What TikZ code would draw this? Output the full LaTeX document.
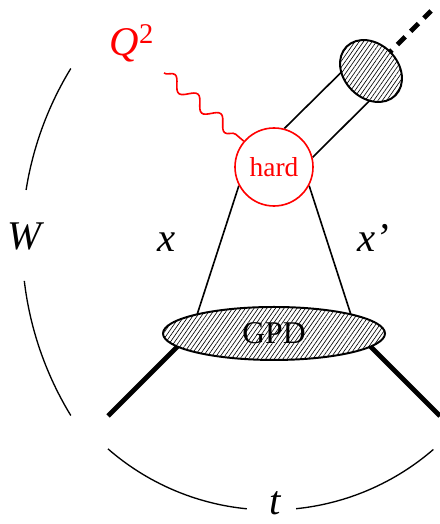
\documentclass[tikz,border=0pt]{standalone}
\usepackage{fontspec}
\setmainfont{Liberation Serif}
\usepackage{tikz}
\usetikzlibrary{calc,backgrounds,shapes.geometric,decorations.pathmorphing,patterns.meta}
\definecolor{ink}{HTML}{000000}
\definecolor{hardred}{HTML}{FF0000}
\tikzset{
  every node/.style={text=ink},
  blob/.style={ellipse,draw=ink,line width=1.4pt,inner sep=0pt,preaction={fill=white},pattern={Lines[angle=55,distance=2.5pt,line width=0.45pt]}},
  hardbox/.style={circle,draw=hardred,line width=1.15pt,fill=white,minimum size=1.95cm,inner sep=0pt,text=hardred,font=\fontsize{19.5}{23}\selectfont},
  lbl/.style={font=\fontsize{29}{34}\selectfont\itshape,inner sep=0pt,anchor=base},
  parton/.style={draw=ink,line width=1.15pt},
  hadron/.style={draw=ink,line width=3.4pt},
  mesonline/.style={draw=ink,line width=3.5pt,dash pattern=on 7.8pt off 5.5pt},
  span/.style={draw=ink,line width=0.95pt},
  photon/.style={draw=hardred,line width=1.15pt,decorate,decoration={snake,amplitude=1.5mm,segment length=7.54mm}},
}

\begin{document}
\begin{tikzpicture}[x=1cm,y=1cm]
  \useasboundingbox (0,0) rectangle (11,13.1);
  \node[hardbox] (hard) at (6.85,8.925) {hard};
  \node[blob,minimum width=5.55cm,minimum height=1.325cm,font=\fontsize{22.5}{27}\selectfont] (gpd) at (6.85,4.763) {GPD};
  \node[blob,rotate=45,minimum width=1.35cm,minimum height=1.725cm] (meson) at (9.275,11.325) {};
  \coordinate (qin) at (4.1,11.275);
  \coordinate (pin) at (2.7,2.7);
  \coordinate (pout) at (11.0,2.7);
  \coordinate (mout) at ($(meson.center)+(45:2.125)$);
  \coordinate (wc) at (8.875,7.05);
  \coordinate (tc) at (6.775,6.55);
  \begin{scope}[on background layer]
    \draw[parton] (hard.208) -- ($(gpd.center)+(-1.93,0.45)$);
    \draw[parton] (hard.332) -- ($(gpd.center)+(1.93,0.45)$);
    \draw[parton] (hard.75.85) -- ($(meson.center)+(135:0.5)$);
    \draw[parton] (hard.14.15) -- ($(meson.center)+(-45:0.5)$);
    \draw[mesonline] (meson.center) -- (mout);
    \draw[hadron] (pin) -- ($(gpd.center)+(-1.85,0.237)$);
    \draw[hadron] (pout) -- ($(gpd.center)+(1.85,0.237)$);
  \end{scope}
  \draw[photon] (qin) -- (hard);
  \node[lbl,text=hardred] (lblq) at (3.3,11.7) {Q{\upshape\textsuperscript{2}}};
  \node[lbl] (lblw) at (0.6,6.85) {W};
  \node[lbl] (lblx) at (4.175,6.8) {x};
  \node[lbl] (lblxp) at (9.34,6.8) {x'};
  \node[lbl] (lblt) at (6.875,0.24) {t};
  % brackets for W and t
  \draw[span] ([shift={(148.6:8.325)}]wc) arc[start angle=148.6,end angle=171,radius=8.325];
  \draw[span] ([shift={(186.7:8.325)}]wc) arc[start angle=186.7,end angle=211.4,radius=8.325];
  \draw[span] ([shift={(228.9:6.2)}]tc) arc[start angle=228.9,end angle=264.4,radius=6.2];
  \draw[span] ([shift={(275.8:6.2)}]tc) arc[start angle=275.8,end angle=310.9,radius=6.2];
\end{tikzpicture}
\end{document}
